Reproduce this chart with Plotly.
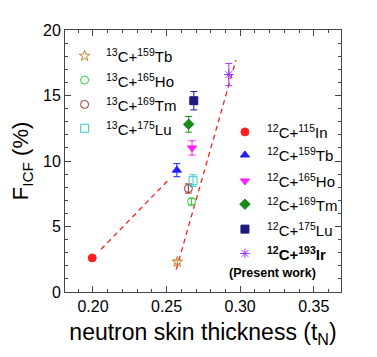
import plotly.graph_objects as go

# ---------------- data ----------------
series_names = ["<sup>13</sup>C+<sup>159</sup>Tb", "<sup>13</sup>C+<sup>165</sup>Ho",
                "<sup>13</sup>C+<sup>169</sup>Tm", "<sup>13</sup>C+<sup>175</sup>Lu",
                "<sup>12</sup>C+<sup>115</sup>In", "<sup>12</sup>C+<sup>159</sup>Tb",
                "<sup>12</sup>C+<sup>165</sup>Ho", "<sup>12</sup>C+<sup>169</sup>Tm",
                "<sup>12</sup>C+<sup>175</sup>Lu", "<b><sup>12</sup>C+<sup>193</sup>Ir</b>"]
skin_thickness = [0.2573, 0.2670, 0.2648, 0.2680, 0.1995, 0.2570, 0.2673, 0.2650, 0.2685, 0.2923]
f_icf = [2.3, 6.9, 7.9, 8.5, 2.6, 9.3, 11.0, 12.8, 14.6, 16.6]
f_icf_err = [0.15, 0.25, 0.35, 0.45, 0.1, 0.5, 0.55, 0.6, 0.7, 0.85]
symbols = ["star-open", "circle-open", "circle-open", "square-open", "circle",
           "triangle-up", "triangle-down", "diamond", "square", "asterisk-open"]
colors = ["#c8873a", "#33cc33", "#a52a2a", "#33cccc", "#ff2020",
          "#2020ff", "#ff20ff", "#1a8a1a", "#1a1a80", "#9933ff"]

# dashed guide lines (two linear trends)
line1_x = [0.2055, 0.2517]
line1_y = [3.26, 8.6]
line2_x = [0.2566, 0.2971]
line2_y = [1.73, 17.7]

legend_left_idx = [0, 1, 2, 3]
legend_right_idx = [4, 5, 6, 7, 8, 9]
legend_left_y = [0.901, 0.809, 0.716, 0.625]
legend_right_y = [0.611, 0.523, 0.424, 0.335, 0.240, 0.147]

FONT = "Liberation Sans, Arial, sans-serif"

fig = go.Figure()

fig.add_trace(go.Scatter(x=line1_x, y=line1_y, mode="lines",
                         line=dict(color="#ff2020", width=1.3, dash="5px,4px"),
                         showlegend=False, hoverinfo="skip"))
fig.add_trace(go.Scatter(x=line2_x, y=line2_y, mode="lines",
                         line=dict(color="#ff2020", width=1.3, dash="5px,4px"),
                         showlegend=False, hoverinfo="skip"))

for i in range(len(series_names)):
    fig.add_trace(go.Scatter(
        x=[skin_thickness[i]], y=[f_icf[i]], mode="markers",
        marker=dict(symbol=symbols[i], size=8, color=colors[i],
                    line=dict(color=colors[i], width=1)),
        error_y=dict(type="data", array=[f_icf_err[i]], color=colors[i],
                     thickness=1, width=3.5),
        name=series_names[i], showlegend=False))

# legend symbols drawn on an invisible overlay axis (0..1 of plot area)
for idx, yy in zip(legend_left_idx, legend_left_y):
    fig.add_trace(go.Scatter(
        x=[0.071], y=[yy], mode="markers", xaxis="x2", yaxis="y2",
        marker=dict(symbol=symbols[idx], size=8, color=colors[idx],
                    line=dict(color=colors[idx], width=1)),
        showlegend=False, hoverinfo="skip"))
    fig.add_annotation(x=0.142, y=yy, xref="x2", yref="y2", text=series_names[idx],
                       showarrow=False, xanchor="left", yanchor="middle",
                       font=dict(family=FONT, size=15, color="black"))
for idx, yy in zip(legend_right_idx, legend_right_y):
    fig.add_trace(go.Scatter(
        x=[0.652], y=[yy], mode="markers", xaxis="x2", yaxis="y2",
        marker=dict(symbol=symbols[idx], size=8, color=colors[idx],
                    line=dict(color=colors[idx], width=1)),
        showlegend=False, hoverinfo="skip"))
    fig.add_annotation(x=0.723, y=yy, xref="x2", yref="y2", text=series_names[idx],
                       showarrow=False, xanchor="left", yanchor="middle",
                       font=dict(family=FONT, size=15, color="black"))
fig.add_annotation(x=0.753, y=0.074, xref="x2", yref="y2", text="<b>(Present work)</b>",
                   showarrow=False, xanchor="center", yanchor="middle",
                   font=dict(family=FONT, size=12.5, color="black"))

axis_common = dict(showline=True, linecolor="#444", linewidth=1, mirror="ticks",
                   ticks="inside", ticklen=6, tickcolor="#444", showgrid=False,
                   zeroline=False, tickfont=dict(family=FONT, size=16, color="black"))

fig.update_layout(
    width=377, height=357,
    margin=dict(l=52, r=44, t=22, b=73),
    plot_bgcolor="white", paper_bgcolor="white",
    xaxis=dict(range=[0.181, 0.3685], tick0=0, dtick=0.05, tickformat=".2f",
               minor=dict(dtick=0.01, ticks="inside", ticklen=3, tickcolor="#444"),
               title=dict(text="neutron skin thickness (t<sub>N</sub>)",
                          font=dict(family=FONT, size=23, color="black"), standoff=9),
               **axis_common),
    yaxis=dict(range=[0, 20], dtick=5,
               minor=dict(dtick=1, ticks="inside", ticklen=3, tickcolor="#444"),
               title=dict(text="F<sub>ICF</sub> (%)",
                          font=dict(family=FONT, size=22, color="black"), standoff=8),
               **axis_common),
    xaxis2=dict(overlaying="x", range=[0, 1], visible=False),
    yaxis2=dict(overlaying="y", range=[0, 1], visible=False),
    showlegend=False,
)

fig.write_html("out.html")
